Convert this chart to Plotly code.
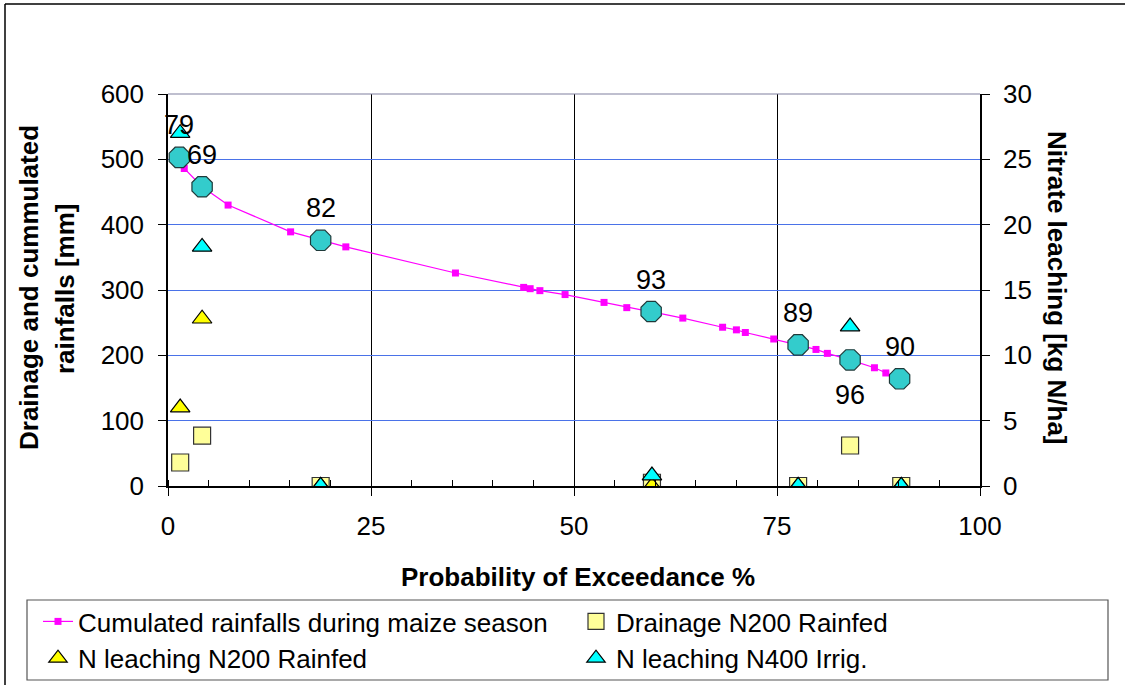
import plotly.graph_objects as go

# ---------------- data ----------------
rain_x = [1.4, 2.0, 4.2, 7.4, 15.1, 18.8, 21.9, 35.4, 43.8, 44.6, 45.8, 48.9, 53.7, 56.5,
          58.9, 59.5, 63.4, 68.3, 70.0, 71.1, 74.6, 77.6, 79.8, 81.2, 84.0, 87.0, 88.4, 90.1]
rain_y = [503, 486, 458, 430, 389, 376, 366, 326, 304, 302, 299, 293, 281, 273,
          268, 267, 257, 243, 239, 235, 225, 216, 209, 203, 193, 181, 173, 164]

year_labels = ["79", "69", "82", "93", "89", "96", "90"]
year_x = [1.4, 4.2, 18.8, 59.5, 77.6, 84.0, 90.1]
year_rain = [503, 458, 376, 267, 216, 193, 164]
label_below = [False, False, False, False, False, True, False]

drain_x = [1.5, 4.2, 18.8, 59.6, 77.6, 84.0, 90.3]
drain_y = [36, 77, 0, 5, 0, 62, 0]

n200_x = [1.5, 4.2, 18.8, 59.6, 77.6, 90.3]
n200_y = [6.0, 12.8, 0, 0, 0, 0]

n400_x = [1.5, 4.2, 18.8, 59.6, 77.6, 84.0, 90.3]
n400_y = [27.0, 18.3, 0, 0.8, 0, 12.2, 0]

x_ticks = [0, 25, 50, 75, 100]
y_left_ticks = [0, 100, 200, 300, 400, 500, 600]
y_right_ticks = [0, 5, 10, 15, 20, 25, 30]

# ---------------- layout geometry ----------------
W, H = 1125, 685
L, R, T, B = 168, 145, 94, 199
PW, PH = W - L - R, H - T - B


def px_x(p):
    return (p - L) / PW


def px_y(q):
    return (H - B - q) / PH


FONT = "Arial, 'Liberation Sans', sans-serif"
GRID_BLUE = "#4a72e8"

fig = go.Figure()

fig.add_trace(go.Scatter(
    x=rain_x, y=rain_y, mode="lines+markers",
    name="Cumulated rainfalls during maize season",
    line=dict(color="#FF00FF", width=1.2),
    marker=dict(symbol="square", size=7, color="#FF00FF"),
    legend="legend"))

fig.add_trace(go.Scatter(
    x=year_x, y=year_rain, mode="markers", showlegend=False,
    marker=dict(symbol="octagon", size=22, color="#33CCCC",
                line=dict(color="#1f3a3a", width=1.2))))

fig.add_trace(go.Scatter(
    x=drain_x, y=drain_y, mode="markers", name="Drainage N200 Rainfed",
    marker=dict(symbol="square", size=17, color="#FFFF99",
                line=dict(color="#333333", width=1.2)),
    legend="legend2"))

fig.add_trace(go.Scatter(
    x=n200_x, y=n200_y, mode="markers", name="N leaching N200 Rainfed", yaxis="y2",
    marker=dict(symbol="triangle-up", size=17, color="#FFFF00",
                line=dict(color="#000000", width=1.2)),
    legend="legend"))

fig.add_trace(go.Scatter(
    x=n400_x, y=n400_y, mode="markers", name="N leaching N400 Irrig.", yaxis="y2",
    marker=dict(symbol="triangle-up", size=17, color="#00FFFF",
                line=dict(color="#000000", width=1.2)),
    legend="legend2"))

annotations = []
for lab, xx, yy, below in zip(year_labels, year_x, year_rain, label_below):
    annotations.append(dict(x=xx, y=yy, xref="x", yref="y", text=lab, showarrow=False,
                            xanchor="center", yanchor="middle",
                            yshift=-35 if below else 32,
                            font=dict(family=FONT, size=27, color="black")))

annotations += [
    dict(x=px_x(29), y=px_y(288), xref="paper", yref="paper", showarrow=False,
         xanchor="center", yanchor="middle",
         text="Drainage and cummulated", textangle=-90,
         font=dict(family=FONT, size=26, color="black", weight="bold")),
    dict(x=px_x(65), y=px_y(288), xref="paper", yref="paper", showarrow=False,
         xanchor="center", yanchor="middle",
         text="rainfalls [mm]", textangle=-90,
         font=dict(family=FONT, size=26, color="black", weight="bold")),
    dict(x=px_x(1057), y=px_y(288), xref="paper", yref="paper", showarrow=False,
         xanchor="center", yanchor="middle",
         text="Nitrate leaching [kg N/ha]", textangle=90,
         font=dict(family=FONT, size=26, color="black", weight="bold")),
    dict(x=px_x(578), y=px_y(577), xref="paper", yref="paper", showarrow=False,
         xanchor="center", yanchor="middle",
         text="Probability of Exceedance %",
         font=dict(family=FONT, size=26, color="black", weight="bold")),
]

shapes = [
    # outer chart border: left and top edges
    dict(type="line", xref="paper", yref="paper",
         x0=px_x(5), y0=px_y(4), x1=px_x(5), y1=px_y(700),
         line=dict(color="black", width=1.5), layer="below"),
    dict(type="line", xref="paper", yref="paper",
         x0=px_x(5), y0=px_y(4), x1=px_x(1200), y1=px_y(4),
         line=dict(color="black", width=1.5), layer="below"),
    # top edge of plot area
    dict(type="line", xref="paper", yref="paper", x0=0, x1=1, y0=1, y1=1,
         line=dict(color="#8080a0", width=1.2)),
    # legend box
    dict(type="rect", xref="paper", yref="paper",
         x0=px_x(27), y0=px_y(680), x1=px_x(1108), y1=px_y(600),
         line=dict(color="#555555", width=1.2)),
]

fig.update_layout(
    width=W, height=H,
    margin=dict(l=L, r=R, t=T, b=B, autoexpand=False),
    paper_bgcolor="white", plot_bgcolor="white",
    font=dict(family=FONT, size=26, color="black"),
    showlegend=True,
    legend=dict(x=px_x(38), y=px_y(598), xanchor="left", yanchor="top",
                orientation="v", bgcolor="rgba(0,0,0,0)", borderwidth=0,
                font=dict(family=FONT, size=26, color="black"), itemwidth=30),
    legend2=dict(x=px_x(576), y=px_y(598), xanchor="left", yanchor="top",
                 orientation="v", bgcolor="rgba(0,0,0,0)", borderwidth=0,
                 font=dict(family=FONT, size=26, color="black"), itemwidth=30),
    xaxis=dict(range=[0, 100], tickvals=x_ticks, ticks="outside", ticklen=8,
               tickcolor="black", showline=True, linecolor="black", linewidth=1.5,
               showgrid=True, gridcolor="black", gridwidth=1, zeroline=False,
               tickfont=dict(family=FONT, size=26), ticklabelstandoff=8,
               minor=dict(dtick=5, ticks="inside", ticklen=6, tickcolor="black",
                          showgrid=False)),
    yaxis=dict(range=[0, 600], tickvals=y_left_ticks, ticks="outside", ticklen=8,
               tickcolor="black", showline=True, linecolor="black", linewidth=1.5,
               showgrid=True, gridcolor=GRID_BLUE, gridwidth=1, zeroline=False,
               tickfont=dict(family=FONT, size=26), ticklabelstandoff=9),
    yaxis2=dict(range=[0, 30], tickvals=y_right_ticks, overlaying="y", side="right",
                ticks="outside", ticklen=8, tickcolor="black", showline=True,
                linecolor="black", linewidth=1.5, showgrid=False, zeroline=False,
                tickfont=dict(family=FONT, size=26), ticklabelstandoff=8),
    annotations=annotations,
    shapes=shapes,
)

fig.write_html("out.html", config={"displayModeBar": False},
               post_script="document.body.style.margin='0';")
